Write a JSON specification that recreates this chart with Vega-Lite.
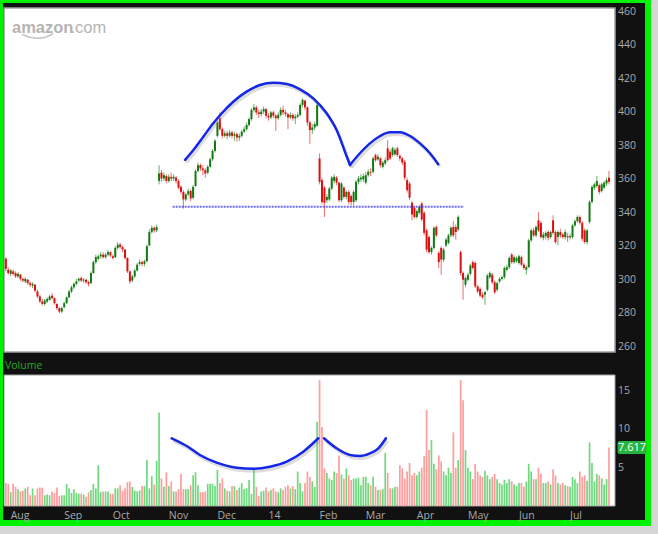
{
"$schema": "https://vega.github.io/schema/vega-lite/v6.json",
"width": 648,
"height": 523,
"autosize": {"type": "none"},
"padding": {"left": 0, "top": 0, "right": 10, "bottom": 11},
"background": "#d6d6d6",
"config": {
  "view": {"fill": "#111111", "stroke": "#00f200", "strokeWidth": 6}
},
"datasets": {
  "priceTicks": [{"t":260},{"t":280},{"t":300},{"t":320},{"t":340},{"t":360},{"t":380},{"t":400},{"t":420},{"t":440},{"t":460}],
  "volTicks": [{"t":5},{"t":10},{"t":15}],
  "months": [{"i":0,"m":"Aug"},{"i":22,"m":"Sep"},{"i":42,"m":"Oct"},{"i":65,"m":"Nov"},{"i":85,"m":"Dec"},{"i":106,"m":"14"},{"i":127,"m":"Feb"},{"i":146,"m":"Mar"},{"i":167,"m":"Apr"},{"i":188,"m":"May"},{"i":209,"m":"Jun"},{"i":230,"m":"Jul"}]
},
"data": {"values": [
{"i":-2,"o":312.5,"h":313.5,"l":305,"c":306.5,"v":3.0},
{"i":-1,"o":306,"h":307.5,"l":303,"c":304,"v":2.9},
{"i":0,"o":303.5,"h":306.5,"l":302,"c":305.5,"v":1.8},
{"i":1,"o":305,"h":306,"l":302.5,"c":303.5,"v":2.9},
{"i":2,"o":304,"h":305,"l":301,"c":302,"v":2.5},
{"i":3,"o":302,"h":304.5,"l":301,"c":303.5,"v":2.2},
{"i":4,"o":303,"h":303.5,"l":299.5,"c":300.5,"v":1.9},
{"i":5,"o":300.5,"h":301.5,"l":298.5,"c":299.5,"v":2.0},
{"i":6,"o":299,"h":301.5,"l":298,"c":300.5,"v":2.3},
{"i":7,"o":300,"h":300.5,"l":297,"c":298,"v":2.5},
{"i":8,"o":298,"h":299,"l":295.5,"c":297,"v":1.4},
{"i":9,"o":296.5,"h":298.5,"l":295,"c":297.5,"v":2.3},
{"i":10,"o":297,"h":297.5,"l":292.5,"c":293.5,"v":1.4},
{"i":11,"o":293,"h":294,"l":289,"c":290,"v":2.3},
{"i":12,"o":290,"h":291,"l":286,"c":287,"v":2.4},
{"i":13,"o":287,"h":288.5,"l":284.5,"c":285.5,"v":2.4},
{"i":14,"o":285.5,"h":288.5,"l":284.5,"c":287.5,"v":1.4},
{"i":15,"o":287,"h":289.5,"l":286,"c":288.5,"v":1.5},
{"i":16,"o":288,"h":291,"l":287.5,"c":290,"v":1.4},
{"i":17,"o":290.5,"h":292,"l":288,"c":289,"v":1.9},
{"i":18,"o":289,"h":289.5,"l":285,"c":286,"v":1.7},
{"i":19,"o":285.5,"h":286,"l":282,"c":283,"v":2.4},
{"i":20,"o":283,"h":283.5,"l":280,"c":281,"v":1.3},
{"i":21,"o":281,"h":284,"l":280,"c":283,"v":1.4},
{"i":22,"o":283.5,"h":287,"l":283,"c":286,"v":1.4},
{"i":23,"o":286,"h":290,"l":285.5,"c":289.5,"v":2.9},
{"i":24,"o":289.5,"h":294,"l":289,"c":293,"v":2.3},
{"i":25,"o":293,"h":296.5,"l":292,"c":295.5,"v":1.7},
{"i":26,"o":295.5,"h":298.5,"l":294.5,"c":297.5,"v":2.2},
{"i":27,"o":297.5,"h":300.5,"l":296.5,"c":299,"v":1.7},
{"i":28,"o":299.5,"h":301.5,"l":298.5,"c":300.5,"v":1.6},
{"i":29,"o":301,"h":302,"l":298.5,"c":299.5,"v":1.6},
{"i":30,"o":299.5,"h":301,"l":298,"c":300,"v":1.5},
{"i":31,"o":300,"h":300.5,"l":297.5,"c":298.5,"v":1.2},
{"i":32,"o":298.5,"h":299.5,"l":296,"c":297.5,"v":1.8},
{"i":33,"o":298,"h":305,"l":297.5,"c":304,"v":2.1},
{"i":34,"o":304,"h":311.5,"l":303.5,"c":310.5,"v":2.9},
{"i":35,"o":310.5,"h":315,"l":309.5,"c":313.5,"v":2.3},
{"i":36,"o":312.5,"h":315,"l":311.5,"c":314,"v":5.3},
{"i":37,"o":314,"h":316.5,"l":312.5,"c":315,"v":1.8},
{"i":38,"o":315,"h":316.5,"l":312.5,"c":313.5,"v":1.9},
{"i":39,"o":313.5,"h":316,"l":312.5,"c":315,"v":1.9},
{"i":40,"o":315,"h":318,"l":314,"c":316.5,"v":1.9},
{"i":41,"o":316.5,"h":317,"l":313.5,"c":314.5,"v":1.6},
{"i":42,"o":314,"h":315,"l":312,"c":313,"v":1.6},
{"i":43,"o":313.5,"h":320,"l":313,"c":319,"v":2.3},
{"i":44,"o":319,"h":322.5,"l":318,"c":321,"v":2.3},
{"i":45,"o":321,"h":322,"l":318.5,"c":319.5,"v":2.7},
{"i":46,"o":319.5,"h":320.5,"l":316.5,"c":318,"v":2.0},
{"i":47,"o":318,"h":318.5,"l":312,"c":313,"v":2.3},
{"i":48,"o":313,"h":313.5,"l":304,"c":305,"v":3.1},
{"i":49,"o":305,"h":305.5,"l":297.5,"c":299,"v":3.2},
{"i":50,"o":299.5,"h":303,"l":298.5,"c":302,"v":2.5},
{"i":51,"o":302,"h":306.5,"l":301,"c":305.5,"v":2.0},
{"i":52,"o":305.5,"h":310,"l":305,"c":309,"v":1.9},
{"i":53,"o":309.5,"h":312,"l":308.5,"c":310.5,"v":2.0},
{"i":54,"o":310.5,"h":311.5,"l":308,"c":309.5,"v":2.6},
{"i":55,"o":309.5,"h":312,"l":308,"c":311,"v":2.6},
{"i":56,"o":311,"h":321,"l":310.5,"c":320,"v":6.0},
{"i":57,"o":320.5,"h":330,"l":320,"c":328.5,"v":2.3},
{"i":58,"o":328.5,"h":332.5,"l":327.5,"c":331,"v":3.9},
{"i":59,"o":331,"h":332,"l":328,"c":329.5,"v":2.8},
{"i":60,"o":329.5,"h":333,"l":328.5,"c":331.5,"v":5.9},
{"i":61,"o":359,"h":368.5,"l":357,"c":363.5,"v":12.2},
{"i":62,"o":364,"h":365.5,"l":358.5,"c":360.5,"v":3.6},
{"i":63,"o":360.5,"h":364,"l":359,"c":362.5,"v":2.5},
{"i":64,"o":362,"h":363,"l":357.5,"c":359,"v":4.4},
{"i":65,"o":359,"h":363,"l":358,"c":361.5,"v":2.6},
{"i":66,"o":361.5,"h":364,"l":359,"c":360.5,"v":3.2},
{"i":67,"o":360.5,"h":363,"l":359,"c":361.5,"v":1.9},
{"i":68,"o":361,"h":362,"l":357.5,"c":359,"v":1.9},
{"i":69,"o":359,"h":360,"l":354,"c":355,"v":2.2},
{"i":70,"o":355.5,"h":356.5,"l":351,"c":352.5,"v":4.2},
{"i":71,"o":352.5,"h":353.5,"l":342.5,"c":348,"v":2.2},
{"i":72,"o":348,"h":352,"l":347,"c":351,"v":2.2},
{"i":73,"o":351,"h":354.5,"l":350,"c":353,"v":2.2},
{"i":74,"o":353,"h":354,"l":347,"c":348.5,"v":2.7},
{"i":75,"o":349,"h":356.5,"l":348,"c":355.5,"v":4.0},
{"i":76,"o":356,"h":366,"l":355.5,"c":365,"v":4.4},
{"i":77,"o":365,"h":370,"l":364,"c":368.5,"v":2.7},
{"i":78,"o":368.5,"h":369.5,"l":365,"c":366.5,"v":1.8},
{"i":79,"o":366.5,"h":368.5,"l":362.5,"c":365.5,"v":1.8},
{"i":80,"o":365.5,"h":366.5,"l":361,"c":363.5,"v":1.9},
{"i":81,"o":364,"h":368.5,"l":363,"c":367.5,"v":2.9},
{"i":82,"o":367.5,"h":373,"l":367,"c":372,"v":2.9},
{"i":83,"o":372,"h":378,"l":371,"c":377,"v":2.9},
{"i":84,"o":377,"h":384,"l":376,"c":383,"v":2.6},
{"i":85,"o":386,"h":395,"l":385,"c":394,"v":4.7},
{"i":86,"o":396.5,"h":400,"l":389,"c":390,"v":3.0},
{"i":87,"o":390,"h":391,"l":384.5,"c":386,"v":3.6},
{"i":88,"o":386,"h":389,"l":385,"c":387.5,"v":2.3},
{"i":89,"o":387.5,"h":389,"l":384,"c":386,"v":2.0},
{"i":90,"o":386,"h":389.5,"l":385,"c":388,"v":1.9},
{"i":91,"o":388,"h":389,"l":384.5,"c":386,"v":2.6},
{"i":92,"o":386,"h":388.5,"l":383,"c":387,"v":2.6},
{"i":93,"o":387,"h":388,"l":382.5,"c":385,"v":2.1},
{"i":94,"o":385,"h":387.5,"l":383,"c":386,"v":2.4},
{"i":95,"o":386,"h":389.5,"l":385,"c":388.5,"v":3.0},
{"i":96,"o":388.5,"h":391.5,"l":387.5,"c":390,"v":2.2},
{"i":97,"o":390,"h":394,"l":389,"c":392.5,"v":2.3},
{"i":98,"o":392.5,"h":397,"l":391.5,"c":396,"v":3.4},
{"i":99,"o":396,"h":402.5,"l":395,"c":401.5,"v":1.6},
{"i":100,"o":401.5,"h":405,"l":400,"c":403,"v":4.9},
{"i":101,"o":403,"h":404,"l":398.5,"c":400,"v":2.5},
{"i":102,"o":400,"h":401.5,"l":396.5,"c":399,"v":1.3},
{"i":103,"o":399,"h":402,"l":397.5,"c":400.5,"v":1.9},
{"i":104,"o":400.5,"h":403.5,"l":399,"c":402,"v":2.0},
{"i":105,"o":402,"h":402.5,"l":396.5,"c":398,"v":2.4},
{"i":106,"o":398,"h":399.5,"l":395,"c":397,"v":1.9},
{"i":107,"o":397,"h":401,"l":396,"c":400,"v":2.1},
{"i":108,"o":400,"h":401,"l":396.5,"c":398,"v":2.3},
{"i":109,"o":398,"h":399,"l":389,"c":396.5,"v":1.9},
{"i":110,"o":396.5,"h":400,"l":395.5,"c":398.5,"v":1.8},
{"i":111,"o":398.5,"h":403,"l":397.5,"c":401.5,"v":2.3},
{"i":112,"o":401.5,"h":404,"l":398.5,"c":400,"v":2.1},
{"i":113,"o":400,"h":401.5,"l":397.5,"c":399,"v":2.5},
{"i":114,"o":399,"h":399.5,"l":390,"c":397,"v":2.7},
{"i":115,"o":397,"h":400,"l":396,"c":398.5,"v":2.3},
{"i":116,"o":398.5,"h":399.5,"l":395,"c":396.5,"v":2.6},
{"i":117,"o":396.5,"h":399,"l":393,"c":397.5,"v":2.2},
{"i":118,"o":397.5,"h":400,"l":396.5,"c":398.5,"v":4.5},
{"i":119,"o":398.5,"h":405.5,"l":397.5,"c":404.5,"v":3.0},
{"i":120,"o":404.5,"h":408.5,"l":403,"c":407.5,"v":1.9},
{"i":121,"o":407,"h":407.5,"l":401.5,"c":403,"v":3.0},
{"i":122,"o":403,"h":403.5,"l":392,"c":394,"v":4.5},
{"i":123,"o":394,"h":395,"l":381,"c":389.5,"v":3.8},
{"i":124,"o":389.5,"h":393,"l":387,"c":391,"v":3.2},
{"i":125,"o":391,"h":394.5,"l":389.5,"c":393,"v":2.5},
{"i":126,"o":392,"h":406,"l":391.5,"c":404.5,"v":11.0},
{"i":127,"o":372.5,"h":375.5,"l":357,"c":358.5,"v":16.4},
{"i":128,"o":359.5,"h":361,"l":345,"c":346.5,"v":10.3},
{"i":129,"o":355,"h":356,"l":337.5,"c":346,"v":4.9},
{"i":130,"o":347.5,"h":351,"l":346,"c":349.5,"v":4.3},
{"i":131,"o":348,"h":355.5,"l":347,"c":354.5,"v":3.6},
{"i":132,"o":354.5,"h":362,"l":353.5,"c":361,"v":3.4},
{"i":133,"o":359,"h":363,"l":357.5,"c":361.5,"v":4.5},
{"i":134,"o":361,"h":362,"l":356.5,"c":358,"v":4.3},
{"i":135,"o":358,"h":358.5,"l":346.5,"c":347.5,"v":6.6},
{"i":136,"o":347.5,"h":358.5,"l":346.5,"c":357.5,"v":4.1},
{"i":137,"o":355,"h":356,"l":348.5,"c":349.5,"v":3.6},
{"i":138,"o":349.5,"h":353.5,"l":348,"c":352.5,"v":4.9},
{"i":139,"o":352.5,"h":353.5,"l":345,"c":346.5,"v":4.0},
{"i":140,"o":350,"h":351,"l":344.5,"c":346.5,"v":3.4},
{"i":141,"o":346.5,"h":353.5,"l":344.5,"c":352.5,"v":3.6},
{"i":142,"o":347.5,"h":359.5,"l":346.5,"c":358.5,"v":3.6},
{"i":143,"o":358.5,"h":362,"l":357,"c":360.5,"v":3.7},
{"i":144,"o":360,"h":363,"l":358.5,"c":361,"v":2.7},
{"i":145,"o":360,"h":363.5,"l":358.5,"c":362,"v":3.8},
{"i":146,"o":358,"h":364.5,"l":357,"c":362.5,"v":3.8},
{"i":147,"o":362.5,"h":366,"l":361.5,"c":364.5,"v":3.0},
{"i":148,"o":364.5,"h":366.5,"l":362,"c":364,"v":2.7},
{"i":149,"o":364.5,"h":373.5,"l":363.5,"c":372.5,"v":3.8},
{"i":150,"o":374.5,"h":375.5,"l":370.5,"c":371.5,"v":2.5},
{"i":151,"o":372,"h":375,"l":371,"c":373.5,"v":2.1},
{"i":152,"o":372.5,"h":373.5,"l":367,"c":368.5,"v":2.1},
{"i":153,"o":367.5,"h":371,"l":366.5,"c":370,"v":2.2},
{"i":154,"o":369.5,"h":373,"l":368.5,"c":371.5,"v":6.9},
{"i":155,"o":378.5,"h":383.5,"l":370.5,"c":371.5,"v":4.3},
{"i":156,"o":376.5,"h":377.5,"l":371.5,"c":372.5,"v":2.3},
{"i":157,"o":374.5,"h":379.5,"l":373.5,"c":378.5,"v":2.3},
{"i":158,"o":375,"h":379,"l":374,"c":377.5,"v":2.5},
{"i":159,"o":378.5,"h":379.5,"l":373.5,"c":374.5,"v":2.5},
{"i":160,"o":374,"h":375,"l":371,"c":372.5,"v":5.3},
{"i":161,"o":372.5,"h":373.5,"l":368.5,"c":370,"v":4.9},
{"i":162,"o":370.5,"h":371.5,"l":359.5,"c":361,"v":3.6},
{"i":163,"o":359.5,"h":361,"l":352,"c":353.5,"v":4.5},
{"i":164,"o":357.5,"h":358.5,"l":347.5,"c":349,"v":5.6},
{"i":165,"o":346,"h":347,"l":335.5,"c":339,"v":4.0},
{"i":166,"o":343,"h":344,"l":336.5,"c":337.5,"v":4.3},
{"i":167,"o":337.5,"h":342,"l":336.5,"c":341,"v":4.0},
{"i":168,"o":340,"h":344.5,"l":339,"c":343.5,"v":4.5},
{"i":169,"o":345.5,"h":346.5,"l":335,"c":336,"v":5.0},
{"i":170,"o":340,"h":341,"l":326.5,"c":328,"v":6.5},
{"i":171,"o":329.5,"h":330.5,"l":316.5,"c":318,"v":12.5},
{"i":172,"o":325.5,"h":326.5,"l":315.5,"c":316.5,"v":7.3},
{"i":173,"o":316.5,"h":320,"l":315,"c":319,"v":8.6},
{"i":174,"o":319,"h":332,"l":318,"c":331,"v":5.5},
{"i":175,"o":331.5,"h":332.5,"l":325.5,"c":326.5,"v":4.8},
{"i":176,"o":316,"h":317,"l":307,"c":310.5,"v":6.6},
{"i":177,"o":319,"h":320,"l":303,"c":312,"v":5.8},
{"i":178,"o":312,"h":319,"l":310.5,"c":318,"v":4.5},
{"i":179,"o":320.5,"h":325,"l":319.5,"c":324,"v":4.0},
{"i":180,"o":322,"h":327.5,"l":321,"c":326.5,"v":5.0},
{"i":181,"o":326.5,"h":332,"l":325.5,"c":331,"v":4.3},
{"i":182,"o":331.5,"h":335,"l":325.5,"c":326.5,"v":9.6},
{"i":183,"o":331.5,"h":333,"l":324,"c":328.5,"v":5.0},
{"i":184,"o":330,"h":338.5,"l":329,"c":337.5,"v":6.0},
{"i":185,"o":316.5,"h":317.5,"l":302.5,"c":304,"v":16.4},
{"i":186,"o":304,"h":305,"l":288,"c":300,"v":13.8},
{"i":187,"o":297,"h":302,"l":295.5,"c":301,"v":7.3},
{"i":188,"o":300,"h":304,"l":299,"c":303,"v":5.0},
{"i":189,"o":303.5,"h":309.5,"l":302.5,"c":308.5,"v":4.5},
{"i":190,"o":310.5,"h":311.5,"l":306,"c":307,"v":3.5},
{"i":191,"o":310,"h":311,"l":295,"c":296,"v":5.5},
{"i":192,"o":296,"h":297,"l":292,"c":293,"v":4.5},
{"i":193,"o":294.5,"h":295.5,"l":289.5,"c":290.5,"v":4.0},
{"i":194,"o":291,"h":292.5,"l":288.5,"c":289.5,"v":3.8},
{"i":195,"o":291,"h":293.5,"l":285,"c":292.5,"v":4.6},
{"i":196,"o":294,"h":303.5,"l":293,"c":302.5,"v":4.0},
{"i":197,"o":301.5,"h":305,"l":300.5,"c":304,"v":3.5},
{"i":198,"o":303,"h":304,"l":297.5,"c":298.5,"v":3.8},
{"i":199,"o":298.5,"h":299.5,"l":291.5,"c":292.5,"v":4.2},
{"i":200,"o":294,"h":299,"l":293,"c":298,"v":3.5},
{"i":201,"o":299,"h":301.5,"l":298,"c":300.5,"v":3.0},
{"i":202,"o":300.5,"h":302.5,"l":299.5,"c":301.5,"v":2.8},
{"i":203,"o":301.5,"h":308,"l":300.5,"c":307,"v":3.4},
{"i":204,"o":306,"h":309,"l":305,"c":307.5,"v":3.0},
{"i":205,"o":307.5,"h":314,"l":306.5,"c":313,"v":3.5},
{"i":206,"o":315,"h":316,"l":309.5,"c":310.5,"v":3.2},
{"i":207,"o":310.5,"h":314.5,"l":309.5,"c":313.5,"v":2.8},
{"i":208,"o":311,"h":314,"l":310,"c":313,"v":2.6},
{"i":209,"o":310,"h":315,"l":309,"c":314,"v":3.0},
{"i":210,"o":313.5,"h":314.5,"l":308,"c":309,"v":3.0},
{"i":211,"o":309,"h":310,"l":306,"c":307,"v":2.5},
{"i":212,"o":306,"h":308.5,"l":303,"c":307.5,"v":3.2},
{"i":213,"o":307.5,"h":324.5,"l":307,"c":323.5,"v":5.5},
{"i":214,"o":323.5,"h":330.5,"l":322.5,"c":329.5,"v":4.5},
{"i":215,"o":329.5,"h":331,"l":325.5,"c":326.5,"v":3.5},
{"i":216,"o":326.5,"h":332.5,"l":325.5,"c":331.5,"v":3.5},
{"i":217,"o":335.5,"h":340.5,"l":328.5,"c":329.5,"v":5.0},
{"i":218,"o":334,"h":335,"l":324.5,"c":325.5,"v":4.2},
{"i":219,"o":325,"h":328.5,"l":323.5,"c":327,"v":3.0},
{"i":220,"o":326,"h":329,"l":324,"c":328,"v":3.0},
{"i":221,"o":328.5,"h":329.5,"l":323.5,"c":325,"v":3.2},
{"i":222,"o":325.5,"h":329.5,"l":324.5,"c":328.5,"v":2.8},
{"i":223,"o":335.5,"h":338.5,"l":327,"c":328,"v":4.8},
{"i":224,"o":328.5,"h":329.5,"l":321.5,"c":322.5,"v":4.0},
{"i":225,"o":325.5,"h":329.5,"l":320.5,"c":328.5,"v":3.0},
{"i":226,"o":328.5,"h":330.5,"l":325,"c":326.5,"v":2.8},
{"i":227,"o":327,"h":328,"l":324.5,"c":325.5,"v":3.0},
{"i":228,"o":325.5,"h":330,"l":324,"c":328.5,"v":2.7},
{"i":229,"o":326,"h":328,"l":322.5,"c":325.3,"v":2.6},
{"i":230,"o":325.3,"h":327.5,"l":324,"c":326,"v":2.5},
{"i":231,"o":325.5,"h":333.5,"l":324.5,"c":332.5,"v":3.8},
{"i":232,"o":332.5,"h":336,"l":331.5,"c":335,"v":3.5},
{"i":233,"o":335,"h":338.5,"l":334,"c":337.5,"v":3.0},
{"i":234,"o":337.5,"h":338.5,"l":333,"c":334,"v":4.5},
{"i":235,"o":334,"h":335,"l":323,"c":324.5,"v":3.8},
{"i":236,"o":329.5,"h":330.5,"l":321.5,"c":322.5,"v":4.0},
{"i":237,"o":322.5,"h":330.5,"l":321,"c":329.5,"v":3.3},
{"i":238,"o":334.5,"h":347.5,"l":333.5,"c":346.5,"v":8.3},
{"i":239,"o":346.5,"h":356.5,"l":345.5,"c":355.5,"v":5.6},
{"i":240,"o":355,"h":358,"l":353.5,"c":357,"v":3.2},
{"i":241,"o":356,"h":362,"l":355,"c":359,"v":4.2},
{"i":242,"o":356.5,"h":357.5,"l":351,"c":352.5,"v":4.0},
{"i":243,"o":353,"h":358,"l":352,"c":357,"v":3.6},
{"i":244,"o":355,"h":359,"l":354,"c":358,"v":2.8},
{"i":245,"o":357.5,"h":361,"l":356,"c":359.5,"v":3.5},
{"i":246,"o":361,"h":365,"l":357,"c":358.5,"v":7.617}
]},
"layer": [
 {"layer": [
  {"data": {"values": [{}]},
   "mark": {"type": "rect", "fill": "#ffffff", "stroke": "#a0a0a0", "strokeWidth": 1.5},
   "encoding": {
     "x": {"datum": -2.755, "type": "quantitative", "axis": null},
     "x2": {"datum": 248.47},
     "y": {"datum": 256.8, "type": "quantitative", "axis": null},
     "y2": {"datum": 462.4}}},
  {"mark": {"type": "rule", "strokeWidth": 1, "opacity": 0.7},
   "encoding": {
     "x": {"field": "i", "type": "quantitative", "axis": null,
           "scale": {"domain": [-2.755, 248.47], "range": [4, 615], "nice": false, "zero": false}},
     "y": {"field": "l", "type": "quantitative", "axis": null,
           "scale": {"domain": [256.8, 462.4], "range": [352, 8], "nice": false, "zero": false}},
     "y2": {"field": "h"},
     "color": {"condition": {"test": "datum.c >= datum.o", "value": "#2a8f2a"}, "value": "#e43030"}}},
  {"mark": {"type": "rule", "strokeWidth": 2},
   "encoding": {
     "x": {"field": "i", "type": "quantitative", "axis": null},
     "y": {"field": "o", "type": "quantitative", "axis": null},
     "y2": {"field": "c"},
     "color": {"condition": {"test": "datum.c >= datum.o", "value": "#137a13"}, "value": "#dc1010"}}},
  {"data": {"values": [{}]},
   "mark": {"type": "rule", "color": "#3a3af2", "strokeWidth": 2, "strokeDash": [2, 1], "opacity": 0.75},
   "encoding": {
     "x": {"datum": 66.6, "type": "quantitative", "axis": null},
     "x2": {"datum": 186.4},
     "y": {"datum": 343.6, "type": "quantitative", "axis": null}}},
  {"data": {"values": [
     {"s":1,"i":71.7,"p":371.6},{"s":1,"i":75.1,"p":377.5},{"s":1,"i":79.2,"p":385.5},{"s":1,"i":83.3,"p":393.5},
     {"s":1,"i":86.8,"p":399.5},{"s":1,"i":91.5,"p":406.4},{"s":1,"i":97.0,"p":412.4},{"s":1,"i":102.5,"p":416.4},
     {"s":1,"i":108.0,"p":417.7},{"s":1,"i":113.5,"p":417.0},{"s":1,"i":119.0,"p":413.8},{"s":1,"i":124.4,"p":408.4},
     {"s":1,"i":129.9,"p":399.5},{"s":1,"i":134.0,"p":389.5},{"s":1,"i":138.2,"p":373.5},{"s":1,"i":139.5,"p":368.6},
     {"s":2,"i":139.5,"p":368.6},{"s":2,"i":143.6,"p":375.6},{"s":2,"i":147.7,"p":381.5},{"s":2,"i":151.9,"p":385.9},
     {"s":2,"i":156.0,"p":388.1},{"s":2,"i":160.1,"p":388.1},{"s":2,"i":164.2,"p":385.9},{"s":2,"i":168.3,"p":381.5},
     {"s":2,"i":172.4,"p":375.6},{"s":2,"i":175.8,"p":369.0}]},
   "layer": [
     {"mark": {"type": "line", "interpolate": "monotone", "color": "#8a8a8a", "opacity": 0.3, "strokeWidth": 3, "xOffset": 1.5, "yOffset": 2.5},
      "encoding": {"x": {"field": "i", "type": "quantitative", "axis": null}, "y": {"field": "p", "type": "quantitative", "axis": null}, "detail": {"field": "s"}}},
     {"mark": {"type": "line", "interpolate": "monotone", "color": "#1426e8", "strokeWidth": 2.5, "strokeCap": "round"},
      "encoding": {"x": {"field": "i", "type": "quantitative", "axis": null}, "y": {"field": "p", "type": "quantitative", "axis": null}, "detail": {"field": "s"}}}
   ]},
  {"data": {"values": [{"i":4.65,"p":446.6},{"i":7.94,"p":444.9},{"i":11.2,"p":444.3},{"i":14.5,"p":445.1},{"i":17.4,"p":447.0}]},
   "mark": {"type": "line", "interpolate": "monotone", "color": "#c4c4c4", "strokeWidth": 1.5},
   "encoding": {"x": {"field": "i", "type": "quantitative", "axis": null}, "y": {"field": "p", "type": "quantitative", "axis": null}}},
  {"data": {"values": [{}]},
   "mark": {"type": "text", "text": "amazon", "align": "left", "baseline": "alphabetic", "color": "#b4b4b4", "fontSize": 16.5, "fontWeight": "bold", "font": "Liberation Sans"},
   "encoding": {"x": {"datum": 0.53, "type": "quantitative", "axis": null}, "y": {"datum": 447.5, "type": "quantitative", "axis": null}}},
  {"data": {"values": [{}]},
   "mark": {"type": "text", "text": ".com", "align": "left", "baseline": "alphabetic", "color": "#b4b4b4", "fontSize": 16.5, "font": "Liberation Sans"},
   "encoding": {"x": {"datum": 24.6, "type": "quantitative", "axis": null}, "y": {"datum": 447.5, "type": "quantitative", "axis": null}}},
  {"data": {"name": "priceTicks"},
   "mark": {"type": "text", "align": "left", "baseline": "middle", "color": "#aaaaaa", "fontSize": 10.5, "font": "Open Sans"},
   "encoding": {"x": {"datum": 249.7, "type": "quantitative", "axis": null}, "y": {"field": "t", "type": "quantitative", "axis": null}, "text": {"field": "t", "type": "quantitative"}}}
 ]},
 {"layer": [
  {"data": {"values": [{}]},
   "mark": {"type": "rect", "fill": "#ffffff", "stroke": "#a0a0a0", "strokeWidth": 1},
   "encoding": {
     "x": {"datum": -2.755, "type": "quantitative", "axis": null},
     "x2": {"datum": 248.47},
     "y": {"datum": 0, "type": "quantitative", "axis": null},
     "y2": {"datum": 17.08}}},
  {"mark": {"type": "rule", "strokeWidth": 1.7},
   "encoding": {
     "x": {"field": "i", "type": "quantitative", "axis": null},
     "y": {"field": "v", "type": "quantitative", "axis": null,
           "scale": {"domain": [0, 17.08], "range": [506, 375], "nice": false, "zero": false}},
     "y2": {"datum": 0},
     "color": {"condition": {"test": "datum.c >= datum.o", "value": "#6fd97d"}, "value": "#ff9c9c"}}},
  {"data": {"values": [
     {"s":1,"i":66.2,"p":8.83},{"s":1,"i":72.4,"p":7.82},{"s":1,"i":77.8,"p":6.65},{"s":1,"i":84.7,"p":5.65},
     {"s":1,"i":92.9,"p":4.99},{"s":1,"i":99.8,"p":4.86},{"s":1,"i":106.6,"p":5.12},{"s":1,"i":113.5,"p":5.78},
     {"s":1,"i":120.3,"p":7.08},{"s":1,"i":126.5,"p":8.83},
     {"s":2,"i":128.8,"p":8.83},{"s":2,"i":134.0,"p":7.52},{"s":2,"i":139.5,"p":6.65},{"s":2,"i":143.6,"p":6.52},
     {"s":2,"i":147.7,"p":6.87},{"s":2,"i":151.2,"p":7.52},{"s":2,"i":154.3,"p":8.83}]},
   "layer": [
     {"mark": {"type": "line", "interpolate": "monotone", "color": "#8a8a8a", "opacity": 0.3, "strokeWidth": 3, "xOffset": 1.5, "yOffset": 2.5},
      "encoding": {"x": {"field": "i", "type": "quantitative", "axis": null}, "y": {"field": "p", "type": "quantitative", "axis": null}, "detail": {"field": "s"}}},
     {"mark": {"type": "line", "interpolate": "monotone", "color": "#1426e8", "strokeWidth": 2.5, "strokeCap": "round"},
      "encoding": {"x": {"field": "i", "type": "quantitative", "axis": null}, "y": {"field": "p", "type": "quantitative", "axis": null}, "detail": {"field": "s"}}}
   ]},
  {"data": {"values": [{}]},
   "mark": {"type": "text", "text": "Volume", "align": "left", "baseline": "middle", "color": "#22a822", "fontSize": 10.5, "font": "Open Sans"},
   "encoding": {"x": {"datum": -2.34, "type": "quantitative", "axis": null}, "y": {"datum": 18.25, "type": "quantitative", "axis": null}}},
  {"data": {"name": "volTicks"},
   "mark": {"type": "text", "align": "left", "baseline": "middle", "color": "#aaaaaa", "fontSize": 10.5, "font": "Open Sans"},
   "encoding": {"x": {"datum": 249.7, "type": "quantitative", "axis": null}, "y": {"field": "t", "type": "quantitative", "axis": null}, "text": {"field": "t", "type": "quantitative"}}},
  {"data": {"name": "months"},
   "mark": {"type": "text", "align": "left", "baseline": "middle", "color": "#aaaaaa", "fontSize": 10.5, "font": "Open Sans"},
   "encoding": {"x": {"field": "i", "type": "quantitative", "axis": null}, "y": {"datum": -1.3, "type": "quantitative", "axis": null}, "text": {"field": "m"}}},
  {"transform": [{"filter": "datum.i == 246"}],
   "mark": {"type": "tick", "orient": "horizontal", "size": 29, "thickness": 13, "color": "#25b43f", "opacity": 1, "cornerRadius": 2},
   "encoding": {"x": {"datum": 255.5, "type": "quantitative", "axis": null}, "y": {"field": "v", "type": "quantitative", "axis": null}}},
  {"transform": [{"filter": "datum.i == 246"}],
   "mark": {"type": "text", "align": "center", "baseline": "middle", "color": "#ffffff", "fontSize": 11, "font": "Open Sans"},
   "encoding": {"x": {"datum": 255.5, "type": "quantitative", "axis": null}, "y": {"field": "v", "type": "quantitative", "axis": null}, "text": {"field": "v", "type": "quantitative", "format": ".3f"}}}
 ]}
],
"resolve": {"scale": {"y": "independent"}}
}
